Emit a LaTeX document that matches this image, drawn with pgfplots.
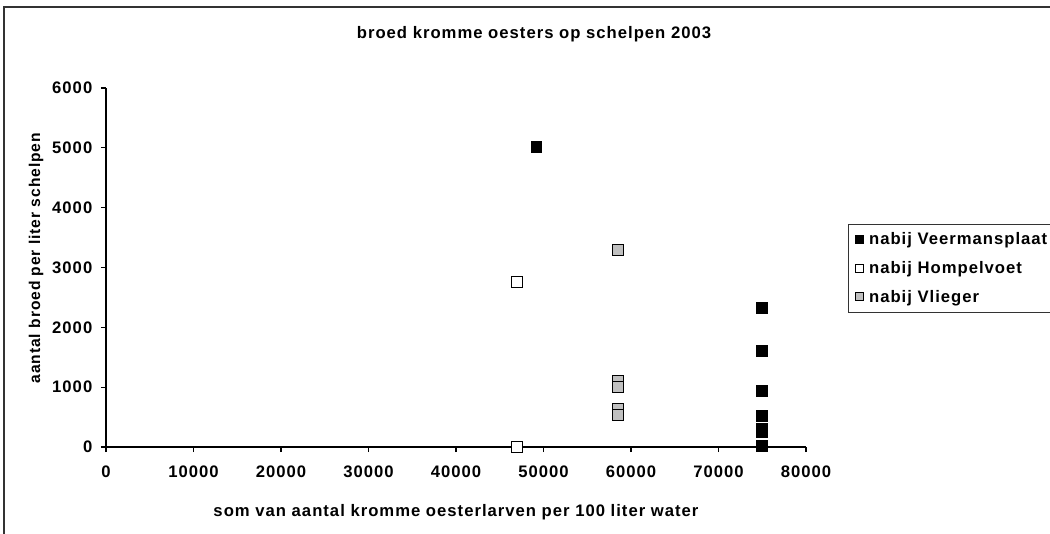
\documentclass[border=0pt]{standalone}
\usepackage{fontspec}
\setmainfont{Liberation Sans}
\newfontfamily\chartfont[LetterSpace=6]{Liberation Sans}
\usepackage{pgfplots}
\pgfplotsset{compat=1.18}
\definecolor{vgrey}{HTML}{C0C0C0}
\definecolor{frame}{HTML}{333333}
\newcommand{\cf}{\chartfont\bfseries\fontsize{12.5pt}{14pt}\selectfont}

\pgfplotstableread{
x y
49200 5010
75000 2320
75000 1610
75000 930
75000 520
75000 300
75000 250
75000 10
}\veermansplaat
\pgfplotstableread{
x y
47000 2750
47000 0
}\hompelvoet
\pgfplotstableread{
x y
58500 3300
58500 1100
58500 1000
58500 640
58500 530
}\vlieger

\begin{document}
\begin{tikzpicture}
\clip (0,0) rectangle (787.5pt,399.75pt);
\draw[frame,line width=1.2pt] (3pt,-10pt) -- (3pt,394.5pt) -- (800pt,394.5pt);
\node[font=\cf] at (400.5pt,374.25pt)
  {broed kromme oesters op schelpen 2003};
\begin{axis}[
  at={(79.5pt,64.5pt)}, anchor=south west,
  scale only axis, width=525pt, height=269.25pt,
  xmin=0, xmax=80000, ymin=0, ymax=6000,
  xtick={0,10000,...,80000}, ytick={0,1000,...,6000},
  axis x line*=bottom, axis y line*=left,
  axis line style={-,black,line width=0.8pt},
  tick align=outside, tick style={black,line width=0.8pt},
  major tick length=3.75pt,
  scaled ticks=false,
  /pgf/number format/assume math mode=true,
  /pgf/number format/1000 sep={},
  ticklabel style={font=\cf},
  xticklabel style={yshift=-7pt},
  yticklabel style={xshift=-3pt},
  xlabel={som van aantal kromme oesterlarven per 100 liter water},
  ylabel={aantal broed per liter schelpen},
  xlabel style={font=\cf,at={(axis description cs:0.5,-0.181)},anchor=center},
  ylabel style={font=\chartfont\bfseries\fontsize{11.7pt}{14pt}\selectfont,
    at={(axis description cs:-0.1,0.526)},anchor=center},
  clip=false,
  legend style={at={(axis description cs:1.06,0.621)},anchor=north west,
    draw=frame, line width=0.6pt,
    font=\cf,
    row sep=7pt, inner xsep=3pt, inner ysep=4pt},
  legend cell align=left,
  legend image code/.code={%
    \path (0pt,0pt) (9.75pt,0pt);
    \draw[#1,mark size=3pt] plot coordinates {(5.25pt,0pt)};},
  every axis plot/.append style={only marks, mark=square*, mark size=4.1pt, line width=0.75pt},
]
\addplot[draw=black, fill=black] table {\veermansplaat};
\addplot[draw=black, fill=white] table {\hompelvoet};
\addplot[draw=black, fill=vgrey] table {\vlieger};
\legend{nabij Veermansplaat,nabij Hompelvoet,nabij Vlieger}
\end{axis}
\end{tikzpicture}
\end{document}
